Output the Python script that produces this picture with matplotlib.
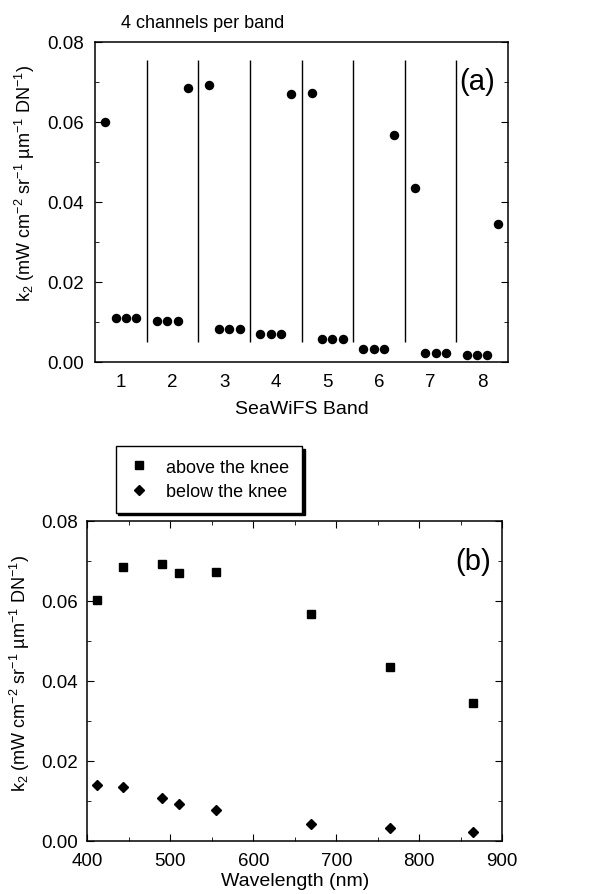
import numpy as np
import matplotlib
matplotlib.use("Agg")
import matplotlib.pyplot as plt
from matplotlib.ticker import MultipleLocator, FormatStrFormatter

plt.rcParams['font.family'] = ['Liberation Sans', 'DejaVu Sans']
plt.rcParams['mathtext.fontset'] = 'custom'
plt.rcParams['mathtext.rm'] = 'Liberation Sans'
plt.rcParams['mathtext.it'] = 'Liberation Sans'
plt.rcParams['mathtext.bf'] = 'Liberation Sans:bold'

# SeaWiFS bands and their centre wavelengths (nm)
bands = [1, 2, 3, 4, 5, 6, 7, 8]
wavelengths = [412, 443, 490, 510, 555, 670, 765, 865]

# k2 per channel: the single high-gain channel ("above the knee") and
# the three remaining channels of each band
k2_above = [0.0601, 0.0684, 0.0693, 0.0670, 0.0672, 0.0567, 0.0434, 0.0345]
k2_low_channels = [0.0109, 0.0103, 0.0083, 0.0070, 0.0058, 0.0033, 0.0023, 0.0018]
# order of the high channel within each band (0 = first, 3 = last)
high_channel_pos = [0, 3, 0, 3, 0, 3, 0, 3]

# k2 below the knee vs wavelength
k2_below = [0.0139, 0.0135, 0.0108, 0.0092, 0.0078, 0.0043, 0.0032, 0.0021]

channel_offsets = [-0.3, -0.1, 0.1, 0.3]

fig = plt.figure(figsize=(6.07, 8.95), dpi=100)
ylabel = r'k$_2$ (mW cm$^{-2}$ sr$^{-1}$ µm$^{-1}$ DN$^{-1}$)'

# ---------- panel (a) ----------
ax1 = fig.add_axes([95 / 607, 1 - 363 / 895, 413 / 607, 320 / 895])
xs, ys = [], []
for b, hi, lo, hp in zip(bands, k2_above, k2_low_channels, high_channel_pos):
    for i, off in enumerate(channel_offsets):
        xs.append(b + off)
        ys.append(hi if i == hp else lo)
ax1.plot(xs, ys, 'o', color='black', markersize=5.8, linestyle='none')
for b in bands[:-1]:
    ax1.vlines(b + 0.5, 0.005, 0.0755, color='black', linewidth=1.0)
ax1.set_xlim(0.5, 8.5)
ax1.set_ylim(0, 0.08)
ax1.set_xticks(bands)
ax1.set_xticklabels([str(b) for b in bands])
ax1.yaxis.set_major_locator(MultipleLocator(0.02))
ax1.yaxis.set_minor_locator(MultipleLocator(0.01))
ax1.yaxis.set_major_formatter(FormatStrFormatter('%.2f'))
ax1.tick_params(axis='x', length=0, labelsize=13.5, pad=8)
ax1.tick_params(axis='y', which='both', direction='in', left=True, right=True,
                labelsize=13.5, pad=8)
ax1.tick_params(axis='y', which='major', length=5)
ax1.tick_params(axis='y', which='minor', length=3)
ax1.set_xlabel('SeaWiFS Band', fontsize=14, labelpad=7)
ax1.set_ylabel(ylabel, fontsize=13)
ax1.yaxis.set_label_coords(-0.14, 0.56)
ax1.text(0.925, 0.877, '(a)', transform=ax1.transAxes, fontsize=21,
         ha='center', va='center')
fig.text(121 / 607, 1 - 23 / 895, '4 channels per band', fontsize=13,
         ha='left', va='center')
for s in ax1.spines.values():
    s.set_linewidth(1.1)

# ---------- panel (b) ----------
ax2 = fig.add_axes([87.3 / 607, 1 - 841.7 / 895, 415 / 607, 320 / 895])
l1, = ax2.plot(wavelengths, k2_above, 's', color='black', markersize=6,
               linestyle='none', label='above the knee')
l2, = ax2.plot(wavelengths, k2_below, 'D', color='black', markersize=5,
               linestyle='none', label='below the knee')
ax2.set_xlim(400, 900)
ax2.set_ylim(0, 0.08)
ax2.xaxis.set_major_locator(MultipleLocator(100))
ax2.xaxis.set_minor_locator(MultipleLocator(50))
ax2.yaxis.set_major_locator(MultipleLocator(0.02))
ax2.yaxis.set_minor_locator(MultipleLocator(0.01))
ax2.yaxis.set_major_formatter(FormatStrFormatter('%.2f'))
ax2.tick_params(which='both', direction='in', top=True, right=True,
                labelsize=13.5)
ax2.tick_params(axis='x', which='both', pad=8)
ax2.tick_params(axis='y', which='both', pad=7)
ax2.tick_params(which='major', length=5)
ax2.tick_params(which='minor', length=3)
ax2.set_xlabel('Wavelength (nm)', fontsize=14, labelpad=2)
ax2.set_ylabel(ylabel, fontsize=13)
ax2.yaxis.set_label_coords(-0.133, 0.525)
ax2.text(0.929, 0.875, '(b)', transform=ax2.transAxes, fontsize=21,
         ha='center', va='center')
for s in ax2.spines.values():
    s.set_linewidth(1.1)

leg = fig.legend(handles=[l1, l2], loc='upper left',
                 bbox_to_anchor=(115.7 / 607, 1 - 447 / 895),
                 bbox_transform=fig.transFigure, borderaxespad=0,
                 fontsize=13, frameon=True, fancybox=False,
                 shadow={'color': 'black', 'alpha': 1},
                 handlelength=1.2, handletextpad=0.9, labelspacing=0.4,
                 borderpad=0.7)
leg.get_frame().set_edgecolor('black')
leg.get_frame().set_linewidth(1.0)

fig.savefig('out.png', dpi=100)
